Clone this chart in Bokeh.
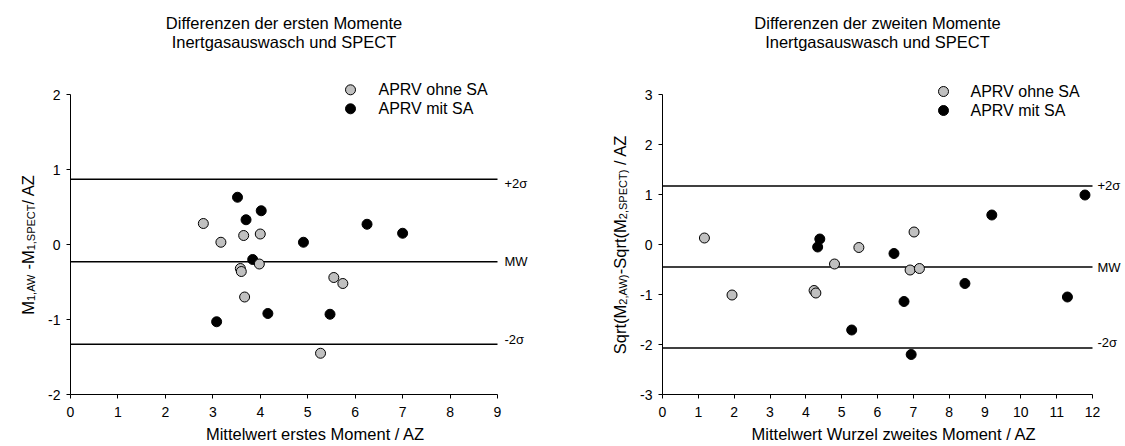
import math
from bokeh.plotting import figure
from bokeh.models import Range1d, FixedTicker, Label
from bokeh.layouts import row
from bokeh.embed import file_html
from bokeh.resources import INLINE

FONT = "Liberation Sans"

# ---------------- data ----------------
left_title = ["Differenzen der ersten Momente", "Inertgasauswasch und SPECT"]
left_xlabel = "Mittelwert erstes Moment / AZ"
left_xticks = [0, 1, 2, 3, 4, 5, 6, 7, 8, 9]
left_yticks = [-2, -1, 0, 1, 2]
left_gray_x = [2.80, 3.17, 3.65, 4.00, 3.58, 3.60, 3.98, 3.67, 5.55, 5.74, 5.27]
left_gray_y = [0.28, 0.03, 0.12, 0.14, -0.32, -0.36, -0.26, -0.70, -0.44, -0.52, -1.45]
left_black_x = [3.52, 4.02, 3.70, 6.25, 7.00, 4.91, 3.84, 4.16, 5.47, 3.08]
left_black_y = [0.63, 0.45, 0.33, 0.27, 0.15, 0.03, -0.20, -0.92, -0.93, -1.03]
left_lines = [0.87, -0.23, -1.33]

right_title = ["Differenzen der zweiten Momente", "Inertgasauswasch und SPECT"]
right_xlabel = "Mittelwert Wurzel zweites Moment / AZ"
right_xticks = [0, 1, 2, 3, 4, 5, 6, 7, 8, 9, 10, 11, 12]
right_yticks = [-3, -2, -1, 0, 1, 2, 3]
right_gray_x = [1.17, 1.94, 4.23, 4.28, 4.80, 5.48, 7.02, 6.91, 7.17]
right_gray_y = [0.13, -1.01, -0.92, -0.97, -0.39, -0.06, 0.25, -0.51, -0.48]
right_black_x = [4.39, 4.33, 6.46, 6.74, 5.28, 6.94, 8.44, 9.19, 11.79, 11.30]
right_black_y = [0.11, -0.05, -0.18, -1.14, -1.71, -2.20, -0.78, 0.59, 0.99, -1.05]
right_lines = [1.17, -0.45, -2.07]

line_labels = ["+2\u03c3", "MW", "-2\u03c3"]
legend_labels = ["APRV ohne SA", "APRV mit SA"]

left_ylabel = [("M", 16.5, False), ("1,AW", 11, True), (" -M", 16.5, False),
               ("1,SPECT", 11, True), ("/ AZ", 16.5, False)]
right_ylabel = [("Sqrt(M", 16.5, False), ("2,AW)", 11, True), ("-Sqrt(M", 16.5, False),
                ("2,SPECT)", 11, True), (" / AZ", 16.5, False)]

GRAY = "#c0c0c0"
H = 446
AXIS_TOP, AXIS_BOTTOM = 94, 394

# Arial / Liberation Sans advance widths (per 1000 em)
AW = {"M": 833, "1": 556, "2": 556, ",": 278, "A": 667, "W": 944, " ": 278, "-": 333,
      "S": 667, "P": 667, "E": 667, "C": 722, "T": 611, "/": 278, "Z": 611, "q": 556,
      "r": 333, "t": 278, "(": 333, ")": 333}


def label_fig(width, pieces, base_px):
    """Narrow figure that only holds the rotated y-axis title (with subscripts)."""
    f = figure(frame_width=width, frame_height=H, min_border=0, title=None,
               x_range=Range1d(0, width), y_range=Range1d(0, H),
               x_axis_type=None, y_axis_type=None,
               output_backend="svg", toolbar_location=None)
    f.grid.visible = False
    f.outline_line_color = None
    f.border_fill_color = "white"
    widths = [sum(AW[c] for c in t) * s / 1000.0 for t, s, _ in pieces]
    ycur = (AXIS_TOP + AXIS_BOTTOM) / 2 + sum(widths) / 2   # pixel rows from the top
    for (t, s, sub), w in zip(pieces, widths):
        lead = len(t) - len(t.lstrip(" "))
        start = ycur - lead * AW[" "] * s / 1000.0
        f.add_layout(Label(x=base_px + (3.5 if sub else 0), y=H - start, text=t.lstrip(" "),
                           angle=math.pi / 2, text_font=FONT, text_font_size=f"{s}px",
                           text_color="black", text_align="left",
                           text_baseline="alphabetic"))
        ycur -= w
    return f


def make_panel(title, xlabel, xticks, yticks, gx, gy, bx, by, lines,
               border_left, axis_w, total_w, legend_px, legend_text_px, legend_py,
               line_label_py, line_label_off):
    BOTTOM = H - AXIS_BOTTOM
    frame_w = total_w - border_left
    xmin, xmax = xticks[0], xticks[-1]
    ymin, ymax = yticks[0], yticks[-1]
    ppu_y = (AXIS_BOTTOM - AXIS_TOP) / (ymax - ymin)
    ppu_x = axis_w / (xmax - xmin)

    def vx(px):
        return xmin + (px - border_left) / ppu_x

    def vy(py):
        return ymax - (py - AXIS_TOP) / ppu_y

    p = figure(frame_width=frame_w, frame_height=AXIS_BOTTOM, title=None,
               min_border_left=border_left, min_border_right=0,
               min_border_top=0, min_border_bottom=BOTTOM,
               x_range=Range1d(xmin, vx(total_w)), y_range=Range1d(ymin, vy(0)),
               output_backend="svg", toolbar_location=None)
    p.grid.visible = False
    p.outline_line_color = None
    p.background_fill_color = "white"
    p.border_fill_color = "white"

    p.xaxis.ticker = FixedTicker(ticks=xticks)
    p.yaxis.ticker = FixedTicker(ticks=yticks)
    p.xaxis.bounds = (xmin, xmax)
    p.yaxis.bounds = (ymin, ymax)
    p.xaxis.major_label_overrides = {t: str(t) for t in xticks}
    p.yaxis.major_label_overrides = {t: str(t) for t in yticks}
    for ax in (p.xaxis[0], p.yaxis[0]):
        ax.axis_line_color = "black"
        ax.axis_line_width = 1
        ax.major_tick_line_color = "black"
        ax.major_tick_in = 0
        ax.major_tick_out = 4
        ax.minor_tick_line_color = None
        ax.major_label_text_font = FONT
        ax.major_label_text_font_size = "14px"
        ax.major_label_text_color = "black"
        ax.major_label_standoff = 6
    p.xaxis.major_label_standoff = 8
    p.xaxis.axis_label = xlabel
    p.xaxis.axis_label_text_font = FONT
    p.xaxis.axis_label_text_font_size = "16.5px"
    p.xaxis.axis_label_text_font_style = "normal"
    p.xaxis.axis_label_text_color = "black"
    p.xaxis.axis_label_standoff = 5

    # reference lines (mean and +/- 2 sigma), spanning the x axis
    p.segment(x0=[xmin] * len(lines), y0=lines, x1=[xmax] * len(lines), y1=lines,
              line_color="black", line_width=1.3)
    for v, txt, lp in zip(lines, line_labels, line_label_py):
        p.add_layout(Label(x=xmax, y=vy(lp), x_offset=line_label_off, text=txt,
                           text_font=FONT, text_font_size="13px", text_color="black",
                           text_baseline="middle", text_align="left"))

    # points
    p.scatter(bx, by, size=10, fill_color="black", line_color="black", line_width=1)
    p.scatter(gx, gy, size=10, fill_color=GRAY, line_color="black", line_width=1)

    # legend
    p.scatter([vx(legend_px)], [vy(legend_py[0])], size=10, fill_color=GRAY,
              line_color="black", line_width=1)
    p.scatter([vx(legend_px)], [vy(legend_py[1])], size=10, fill_color="black",
              line_color="black", line_width=1)
    for txt, py in zip(legend_labels, legend_py):
        p.add_layout(Label(x=vx(legend_text_px), y=vy(py), text=txt, text_font=FONT,
                           text_font_size="16px", text_color="black",
                           text_baseline="middle", text_align="left"))

    # two-line title centred over the axis
    for txt, py in zip(title, [22.7, 41.7]):
        p.add_layout(Label(x=(xmin + xmax) / 2, y=vy(py), text=txt, text_font=FONT,
                           text_font_size="16.5px", text_color="black",
                           text_baseline="middle", text_align="center"))
    return p


# canvas columns: [0,40) label | [40,560) left plot | [560,630) label | [630,1125) right plot
figA = label_fig(40, left_ylabel, 27)
figB = make_panel(left_title, left_xlabel, left_xticks, left_yticks,
                  left_gray_x, left_gray_y, left_black_x, left_black_y, left_lines,
                  30, 427, 520, 310, 338, [89.3, 108.3], [182.7, 260.7, 339.3], 7)
figC = label_fig(70, right_ylabel, 59)
figD = make_panel(right_title, right_xlabel, right_xticks, right_yticks,
                  right_gray_x, right_gray_y, right_black_x, right_black_y, right_lines,
                  32, 430, 495, 313, 340, [91.0, 110.0], [185.0, 266.7, 341.7], 5)

layout = row(figA, figB, figC, figD, spacing=0)
open("out.html", "w").write(file_html(layout, INLINE))
